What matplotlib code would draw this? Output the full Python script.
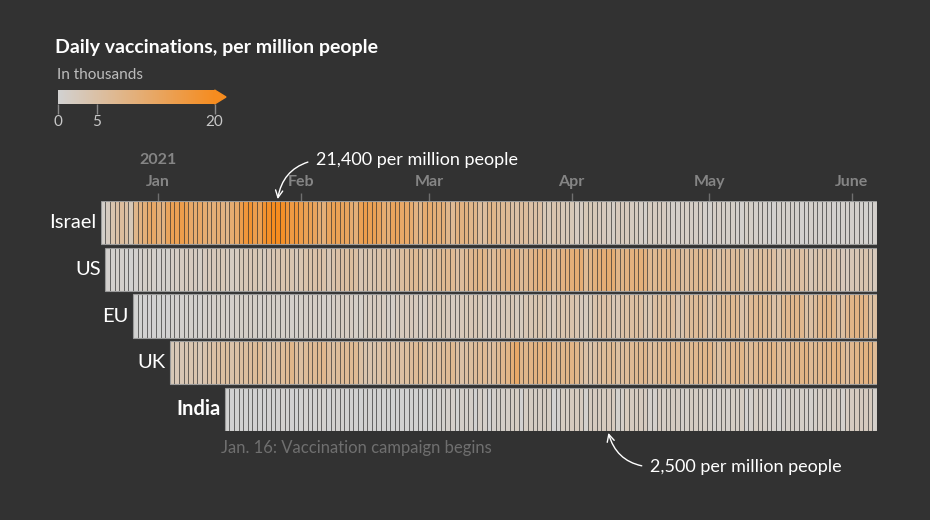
import numpy as np
import pandas as pd
import matplotlib
matplotlib.use("Agg")
import matplotlib.pyplot as plt
from matplotlib.colors import LinearSegmentedColormap, Normalize
from matplotlib.patches import Rectangle, Polygon

plt.rcParams['font.family'] = ['Lato', 'DejaVu Sans']

# daily vaccinations per million people, in thousands
countries = ['Israel', 'US', 'EU', 'UK', 'India']
starts = ['2020-12-20', '2020-12-21', '2020-12-27', '2021-01-04', '2021-01-16']

israel = [1, 2, 4, 5, 6, 5, 3,
          8, 9, 10, 12, 12, 10, 9,
          13, 14, 14, 15, 14, 12, 11,
          12, 11, 10, 10, 11, 9, 8,
          11, 12, 15, 17, 18, 15, 14,
          18, 19, 20, 21.4, 19, 17, 16,
          17, 15, 14, 14, 13, 11, 10,
          13, 14, 14, 13, 13, 11, 10,
          14, 15, 14, 14, 13, 11, 10,
          13, 13, 12, 12, 11, 9, 8,
          11, 11, 10, 10, 10, 8, 7,
          9, 9, 9, 8, 8, 6, 6,
          8, 8, 7, 7, 7, 5, 5,
          6, 6, 5, 5, 5, 3, 3,
          4, 4, 3, 3, 3, 2, 2,
          3, 3, 3, 2.5, 2.5, 2, 1.5,
          2.5, 2.5, 2.5, 2, 2, 1.5, 1,
          2, 2, 2, 2, 1.5, 1, 1,
          1.5, 1.5, 1.5, 1.5, 1.5, 1, 0.8,
          1.5, 1.5, 1.2, 1.2, 1.2, 0.8, 0.6,
          1.2, 1.2, 1, 1, 1, 0.6, 0.5,
          1, 1, 1, 1, 0.8, 0.5, 0.5,
          1, 1, 0.8, 0.8, 0.8, 0.5, 0.4,
          0.8, 0.8, 0.8, 0.8, 0.6, 0.4, 0.4,
          0.8]

us = [0.5, 0.6, 0.8, 0.8, 0.4, 0.3, 0.5,
      1.0, 1.2, 1.3, 0.9, 0.6, 0.8, 0.7,
      1.5, 1.7, 2.0, 2.2, 2.3, 2.0, 1.6,
      2.5, 2.7, 2.8, 3.0, 3.0, 2.4, 1.8,
      2.0, 3.0, 3.2, 3.4, 3.5, 3.0, 2.2,
      3.3, 3.6, 4.0, 4.2, 4.3, 3.8, 2.8,
      3.8, 4.4, 4.6, 4.8, 5.0, 4.6, 3.4,
      4.4, 5.0, 5.4, 5.6, 5.8, 5.2, 3.6,
      4.0, 4.0, 4.2, 4.6, 5.0, 5.0, 4.0,
      5.0, 5.8, 6.4, 6.8, 7.0, 6.4, 5.0,
      5.6, 6.2, 6.8, 7.2, 7.4, 7.0, 5.4,
      6.2, 7.0, 7.6, 8.0, 8.4, 8.0, 6.2,
      6.8, 7.6, 8.0, 8.6, 9.0, 8.8, 6.6,
      7.4, 8.2, 8.8, 9.4, 9.8, 9.4, 7.2,
      8.0, 9.0, 9.6, 10.0, 10.6, 10.4, 7.0,
      8.4, 9.6, 10.0, 10.4, 10.8, 10.6, 8.4,
      8.4, 9.2, 9.4, 9.6, 9.8, 9.2, 7.2,
      7.2, 8.0, 8.2, 8.4, 8.4, 7.8, 6.0,
      6.2, 7.0, 7.2, 7.2, 7.4, 6.8, 5.0,
      5.2, 6.0, 6.2, 6.2, 6.4, 5.8, 4.2,
      4.8, 5.6, 5.8, 5.8, 6.0, 5.4, 4.0,
      4.4, 5.0, 5.2, 5.2, 5.4, 4.8, 3.4,
      4.0, 4.4, 4.6, 4.6, 4.6, 3.8, 2.8,
      2.4, 3.4, 3.6, 3.8, 4.0, 3.4, 2.6]

eu = [0.1, 0.1, 0.2, 0.2, 0.2, 0.1, 0.2,
      0.2, 0.4, 0.5, 0.6, 0.7, 0.8, 0.6,
      0.6, 0.9, 1.0, 1.1, 1.2, 1.2, 0.9,
      0.9, 1.2, 1.3, 1.4, 1.4, 1.3, 1.0,
      0.9, 1.2, 1.3, 1.3, 1.3, 1.2, 0.9,
      0.9, 1.3, 1.4, 1.5, 1.5, 1.4, 1.0,
      1.0, 1.5, 1.7, 1.8, 1.8, 1.7, 1.2,
      1.2, 1.8, 2.0, 2.2, 2.2, 2.0, 1.4,
      1.4, 2.2, 2.4, 2.6, 2.6, 2.4, 1.7,
      1.7, 2.6, 2.8, 3.0, 3.0, 2.8, 2.0,
      1.9, 2.8, 3.0, 3.2, 3.2, 3.0, 2.2,
      2.0, 2.6, 2.6, 2.8, 3.0, 3.2, 2.4,
      2.4, 3.4, 3.6, 3.8, 4.0, 4.0, 2.8,
      2.8, 3.8, 4.0, 4.2, 4.4, 3.8, 2.6,
      2.4, 3.0, 4.4, 4.8, 5.0, 5.0, 3.4,
      3.4, 4.8, 5.2, 5.4, 5.6, 5.4, 3.8,
      3.8, 5.4, 5.8, 6.0, 6.2, 6.0, 4.2,
      4.2, 6.0, 6.4, 6.6, 6.8, 6.2, 4.6,
      4.6, 6.4, 6.8, 7.0, 7.2, 7.0, 4.8,
      4.8, 6.8, 7.2, 7.4, 6.8, 7.0, 5.0,
      5.2, 7.2, 7.6, 7.8, 8.0, 7.6, 5.2,
      5.4, 6.2, 7.8, 8.2, 8.4, 8.0, 5.4,
      5.6, 7.6, 8.4, 8.8, 8.6, 8.2, 5.6,
      5.6]

uk = [3.0, 3.2, 3.4, 3.6, 3.8, 4.0, 3.2,
      4.2, 4.6, 5.0, 5.4, 5.6, 5.8, 4.6,
      5.2, 5.6, 5.8, 6.0, 6.4, 7.0, 5.0,
      5.0, 5.6, 6.0, 6.4, 7.0, 8.0, 6.0,
      5.6, 6.4, 6.8, 7.0, 7.2, 7.6, 6.2,
      5.6, 6.4, 6.6, 6.8, 7.0, 7.0, 5.2,
      4.0, 4.2, 4.4, 4.8, 5.2, 6.0, 5.0,
      4.8, 5.4, 5.8, 6.2, 6.6, 7.0, 5.6,
      5.2, 5.6, 6.0, 6.4, 6.8, 7.2, 5.4,
      5.0, 5.4, 5.8, 6.2, 6.6, 7.0, 5.4,
      6.2, 7.0, 7.6, 8.4, 10.0, 12.0, 8.0,
      8.0, 8.6, 9.0, 9.2, 9.4, 10.0, 7.6,
      7.4, 8.0, 8.4, 8.6, 8.0, 6.0, 4.8,
      4.4, 5.2, 6.0, 6.4, 6.8, 7.2, 5.6,
      6.0, 6.6, 7.0, 7.2, 7.4, 7.6, 6.0,
      6.4, 7.0, 7.4, 7.6, 7.8, 8.0, 6.2,
      6.6, 7.2, 7.6, 7.8, 8.0, 8.2, 6.4,
      5.6, 6.8, 7.4, 7.6, 7.8, 8.0, 6.2,
      6.6, 7.2, 7.6, 7.8, 8.0, 8.4, 6.8,
      7.0, 7.4, 7.8, 8.0, 8.4, 8.8, 7.0,
      7.2, 7.8, 8.2, 8.4, 8.8, 9.2, 7.2,
      6.0, 7.6, 8.4, 8.8, 9.0, 9.4, 7.0]

india = [0.15, 0.02, 0.11, 0.10, 0.08, 0.10, 0.17,
         0.14, 0.03, 0.26, 0.1, 0.3, 0.35, 0.3,
         0.2, 0.05, 0.3, 0.35, 0.3, 0.3, 0.4,
         0.4, 0.05, 0.4, 0.4, 0.35, 0.3, 0.3,
         0.3, 0.05, 0.3, 0.3, 0.3, 0.25, 0.3,
         0.3, 0.05, 0.2, 0.3, 0.3, 0.3, 0.3,
         0.3, 0.05, 0.1, 0.4, 0.6, 0.7, 1.0,
         1.0, 0.1, 1.1, 1.0, 1.1, 0.3, 1.4,
         1.0, 0.2, 1.0, 1.2, 1.1, 1.4, 1.6,
         1.8, 0.2, 1.6, 1.8, 1.6, 1.7, 1.9,
         1.8, 0.2, 0.5, 1.8, 1.5, 2.3, 2.2,
         2.0, 0.6, 2.2, 2.3, 2.3, 2.4, 2.5,
         2.3, 0.7, 1.1, 2.4, 2.0, 2.0, 2.3,
         2.0, 0.9, 1.0, 2.0, 1.5, 1.8, 1.9,
         1.9, 1.0, 1.2, 1.8, 1.7, 1.6, 1.6,
         1.3, 0.6, 1.0, 1.2, 1.0, 1.6, 1.4,
         1.8, 0.5, 1.0, 1.8, 1.5, 1.4, 0.9,
         0.9, 0.4, 1.0, 1.2, 1.2, 1.0, 1.3,
         1.0, 0.8, 1.1, 1.5, 1.6, 1.6, 1.8,
         2.0, 0.7, 1.9, 2.1, 2.2, 2.2, 2.3,
         2.2, 0.9]

series = [israel, us, eu, uk, india]
months = ['2021-01-01', '2021-02-01', '2021-03-01', '2021-04-01', '2021-05-01', '2021-06-01']
month_labels = ['Jan', 'Feb', 'Mar', 'Apr', 'May', 'June']

BG = '#323232'
W, H = 930, 520
origin = pd.Timestamp('2021-01-01')
cmap = LinearSegmentedColormap.from_list('vax', ['#d2d2d2', '#f68c1f'])
norm = Normalize(0, 20, clip=True)

fig = plt.figure(figsize=(W / 100, H / 100), dpi=100, facecolor=BG)

# main heat strips
ax = fig.add_axes([100.9 / W, 89 / H, 776.1 / W, 230 / H])
ax.set_facecolor(BG)
rh = 0.46
for i, (name, st, vals) in enumerate(zip(countries, starts, series)):
    d0 = (pd.Timestamp(st) - origin).days
    x = d0 + np.arange(len(vals))
    ax.bar(x, 2 * rh, bottom=i - rh, width=1, align='edge',
           color=cmap(norm(np.array(vals))), edgecolor=(0.18, 0.18, 0.18, 0.55),
           linewidth=0.6)
    ax.add_patch(Rectangle((d0, i - rh), len(vals), 2 * rh, fill=False,
                           edgecolor='#9a9a9a', linewidth=0.8, zorder=3))
    ax.annotate(name, xy=(d0, i), xytext=(-3, 0), textcoords='offset points',
                ha='right', va='center', color='white', fontsize=14.5,
                fontweight='bold' if name == 'India' else 'normal',
                annotation_clip=False)

ax.set_xlim(-12, 157)
ax.set_ylim(4 + rh, -rh)
for s in ax.spines.values():
    s.set_visible(False)
mpos = [(pd.Timestamp(m) - origin).days + 0.5 for m in months]
ax.xaxis.tick_top()
ax.set_xticks(mpos)
ax.set_xticklabels(month_labels, fontweight='bold')
ax.set_yticks([])
ax.tick_params(axis='x', length=6, width=1, color='#6f6f6f', labelcolor='#858585',
               labelsize=11.5, pad=2.5)
ax.annotate('2021', xy=(mpos[0], -rh), xytext=(0, 29.5), textcoords='offset points',
            ha='center', va='center', color='#858585', fontsize=11.5,
            fontweight='bold', annotation_clip=False)

# peak annotations
ip = int(np.argmax(israel))
xi = (pd.Timestamp(starts[0]) - origin).days + ip + 0.5
ax.annotate('21,400 per million people', xy=(xi, -rh - 0.04),
            xytext=(316, H - 160), textcoords='figure pixels',
            ha='left', va='center', color='white', fontsize=13,
            arrowprops=dict(arrowstyle='->', color='white', lw=1,
                            connectionstyle='arc3,rad=0.35', relpos=(0, 0.5),
                            shrinkA=4, shrinkB=0),
            annotation_clip=False)

jp = int(np.argmax(india))
xj = (pd.Timestamp(starts[4]) - origin).days + jp + 0.5
ax.annotate('2,500 per million people', xy=(xj, 4 + rh + 0.04),
            xytext=(650, H - 467), textcoords='figure pixels',
            ha='left', va='center', color='white', fontsize=13,
            arrowprops=dict(arrowstyle='->', color='white', lw=1,
                            connectionstyle='arc3,rad=-0.35', relpos=(0, 0.5),
                            shrinkA=4, shrinkB=0),
            annotation_clip=False)

d_india = (pd.Timestamp(starts[4]) - origin).days
ax.annotate('Jan. 16: Vaccination campaign begins', xy=(d_india, 4 + rh),
            xytext=(-3, -12.5), textcoords='offset points', ha='left', va='center',
            color='#6f6f6f', fontsize=12, annotation_clip=False)

# title and legend
fig.text(55 / W, 1 - 47 / H, 'Daily vaccinations, per million people', color='white',
         fontsize=14, fontweight='bold', ha='left', va='center')
fig.text(57 / W, 1 - 75 / H, 'In thousands', color='#bdbdbd', fontsize=11,
         ha='left', va='center')

cax = fig.add_axes([57.5 / W, (H - 104) / H, 168.5 / W, 14 / H])
cax.set_facecolor(BG)
grad = np.linspace(0, 20, 256).reshape(1, -1)
cax.imshow(grad, extent=(0, 20, 0, 1), aspect='auto', cmap=cmap, norm=norm)
cax.add_patch(Polygon([(20, 0), (21.45, 0.5), (20, 1)], closed=True,
                      color=cmap(1.0), clip_on=False))
cax.set_xlim(0, 21.45)
cax.set_ylim(0, 1)
for s in cax.spines.values():
    s.set_visible(False)
cax.set_yticks([])
cax.set_xticks([0, 5, 20])
cax.set_xticklabels(['0', '5', '20'])
cax.tick_params(axis='x', length=7, width=1, color='#8a8a8a', labelcolor='#c8c8c8',
                labelsize=11, pad=1)

fig.savefig('out.png', dpi=100, facecolor=BG)
